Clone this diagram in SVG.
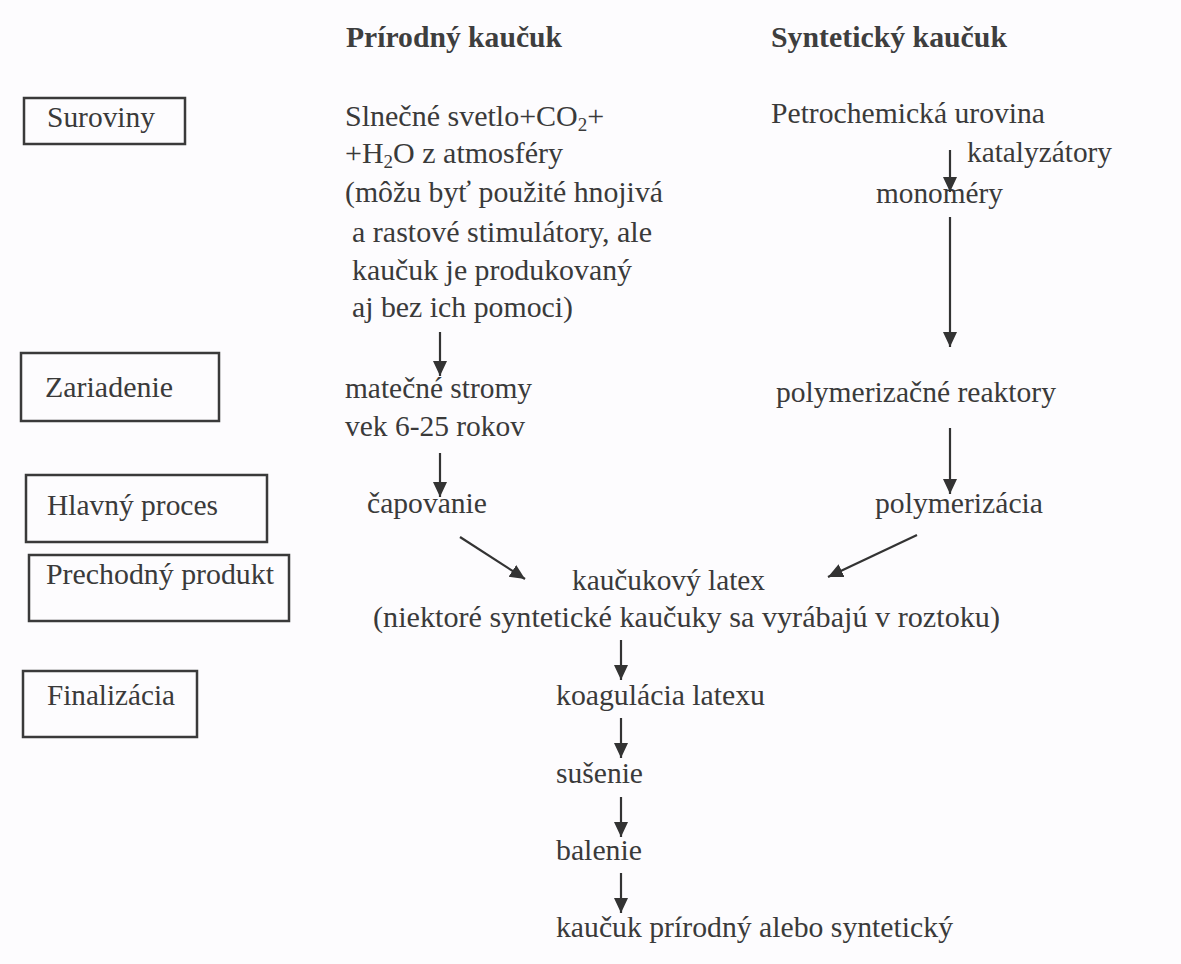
<svg xmlns="http://www.w3.org/2000/svg" width="1181" height="964" viewBox="0 0 1181 964">
<defs>
<style>
.t{font-family:"Liberation Serif","Times New Roman",serif;font-size:30px;fill:#3a3a3a}
.h{font-family:"Liberation Serif","Times New Roman",serif;font-size:30px;font-weight:bold;fill:#3e3e3e}
.box{fill:none;stroke:#3a3a3a;stroke-width:2.5}
.c{stroke:#333;stroke-width:2.2;fill:none}
</style>
<marker id="ah" markerUnits="userSpaceOnUse" markerWidth="16" markerHeight="16" refX="15" refY="7" orient="auto" viewBox="0 0 16 14">
<path d="M0,0 L15,7 L0,14 z" fill="#333"/>
</marker>
</defs>
<rect width="1181" height="964" fill="#fdfcfe"/>

<g id="headers">
<text class="h" x="346" y="47" textLength="216" lengthAdjust="spacingAndGlyphs">Prírodný kaučuk</text>
<text class="h" x="771" y="47" textLength="236" lengthAdjust="spacingAndGlyphs">Syntetický kaučuk</text>
</g>

<g id="box-suroviny">
<rect class="box" x="24" y="98" width="161" height="46"/>
<text class="t" x="47" y="127" textLength="108" lengthAdjust="spacingAndGlyphs">Suroviny</text>
</g>
<g id="box-zariadenie">
<rect class="box" x="21" y="353" width="198" height="68"/>
<text class="t" x="45" y="397" textLength="128" lengthAdjust="spacingAndGlyphs">Zariadenie</text>
</g>
<g id="box-hlavny">
<rect class="box" x="26" y="475" width="241" height="67"/>
<text class="t" x="47" y="515" textLength="171" lengthAdjust="spacingAndGlyphs">Hlavný proces</text>
</g>
<g id="box-prechodny">
<rect class="box" x="29" y="555" width="260" height="66"/>
<text class="t" x="46" y="584" textLength="228" lengthAdjust="spacingAndGlyphs">Prechodný produkt</text>
</g>
<g id="box-finalizacia">
<rect class="box" x="23" y="671" width="174" height="66"/>
<text class="t" x="47" y="705" textLength="128" lengthAdjust="spacingAndGlyphs">Finalizácia</text>
</g>

<g id="natural-raw">
<text class="t" x="345" y="126">Slnečné svetlo+CO<tspan font-size="19" baseline-shift="-5">2</tspan>+</text>
<text class="t" x="345" y="163">+H<tspan font-size="19" baseline-shift="-5">2</tspan>O z atmosféry</text>
<text class="t" x="345" y="202" textLength="318" lengthAdjust="spacingAndGlyphs">(môžu byť použité hnojivá</text>
<text class="t" x="352" y="242" textLength="300" lengthAdjust="spacingAndGlyphs">a rastové stimulátory, ale</text>
<text class="t" x="352" y="280" textLength="280" lengthAdjust="spacingAndGlyphs">kaučuk je produkovaný</text>
<text class="t" x="352" y="317" textLength="221" lengthAdjust="spacingAndGlyphs">aj bez ich pomoci)</text>
</g>
<g id="natural-trees">
<text class="t" x="345" y="398" textLength="187" lengthAdjust="spacingAndGlyphs">matečné stromy</text>
<text class="t" x="345" y="436" textLength="180" lengthAdjust="spacingAndGlyphs">vek 6-25 rokov</text>
</g>
<g id="natural-tapping">
<text class="t" x="367" y="513" textLength="120" lengthAdjust="spacingAndGlyphs">čapovanie</text>
</g>

<g id="synthetic-raw">
<text class="t" x="771" y="123" textLength="274" lengthAdjust="spacingAndGlyphs">Petrochemická urovina</text>
<text class="t" x="967" y="162" textLength="145" lengthAdjust="spacingAndGlyphs">katalyzátory</text>
</g>
<g id="synthetic-monomers">
<text class="t" x="876" y="203" textLength="127" lengthAdjust="spacingAndGlyphs">monoméry</text>
</g>
<g id="synthetic-reactors">
<text class="t" x="776" y="402" textLength="280" lengthAdjust="spacingAndGlyphs">polymerizačné reaktory</text>
</g>
<g id="synthetic-polymerization">
<text class="t" x="875" y="513" textLength="168" lengthAdjust="spacingAndGlyphs">polymerizácia</text>
</g>

<g id="latex">
<text class="t" x="572" y="590" textLength="193" lengthAdjust="spacingAndGlyphs">kaučukový latex</text>
<text class="t" x="373" y="627" textLength="627" lengthAdjust="spacingAndGlyphs">(niektoré syntetické kaučuky sa vyrábajú v roztoku)</text>
</g>
<g id="coagulation">
<text class="t" x="556" y="705" textLength="209" lengthAdjust="spacingAndGlyphs">koagulácia latexu</text>
</g>
<g id="drying">
<text class="t" x="556" y="783" textLength="87" lengthAdjust="spacingAndGlyphs">sušenie</text>
</g>
<g id="packing">
<text class="t" x="556" y="860" textLength="86" lengthAdjust="spacingAndGlyphs">balenie</text>
</g>
<g id="product">
<text class="t" x="556" y="937" textLength="397" lengthAdjust="spacingAndGlyphs">kaučuk prírodný alebo syntetický</text>
</g>

<g id="connectors">
<line class="c" x1="440" y1="332" x2="440" y2="376" marker-end="url(#ah)"/>
<line class="c" x1="440" y1="453" x2="440" y2="497" marker-end="url(#ah)"/>
<line class="c" x1="460" y1="537" x2="525" y2="579" marker-end="url(#ah)"/>
<line class="c" x1="950" y1="150" x2="950" y2="192" marker-end="url(#ah)"/>
<line class="c" x1="950" y1="217" x2="950" y2="347" marker-end="url(#ah)"/>
<line class="c" x1="950" y1="428" x2="950" y2="494" marker-end="url(#ah)"/>
<line class="c" x1="917" y1="535" x2="828" y2="577" marker-end="url(#ah)"/>
<line class="c" x1="621" y1="640" x2="621" y2="680" marker-end="url(#ah)"/>
<line class="c" x1="621" y1="718" x2="621" y2="758" marker-end="url(#ah)"/>
<line class="c" x1="621" y1="797" x2="621" y2="837" marker-end="url(#ah)"/>
<line class="c" x1="621" y1="873" x2="621" y2="913" marker-end="url(#ah)"/>
</g>
</svg>
